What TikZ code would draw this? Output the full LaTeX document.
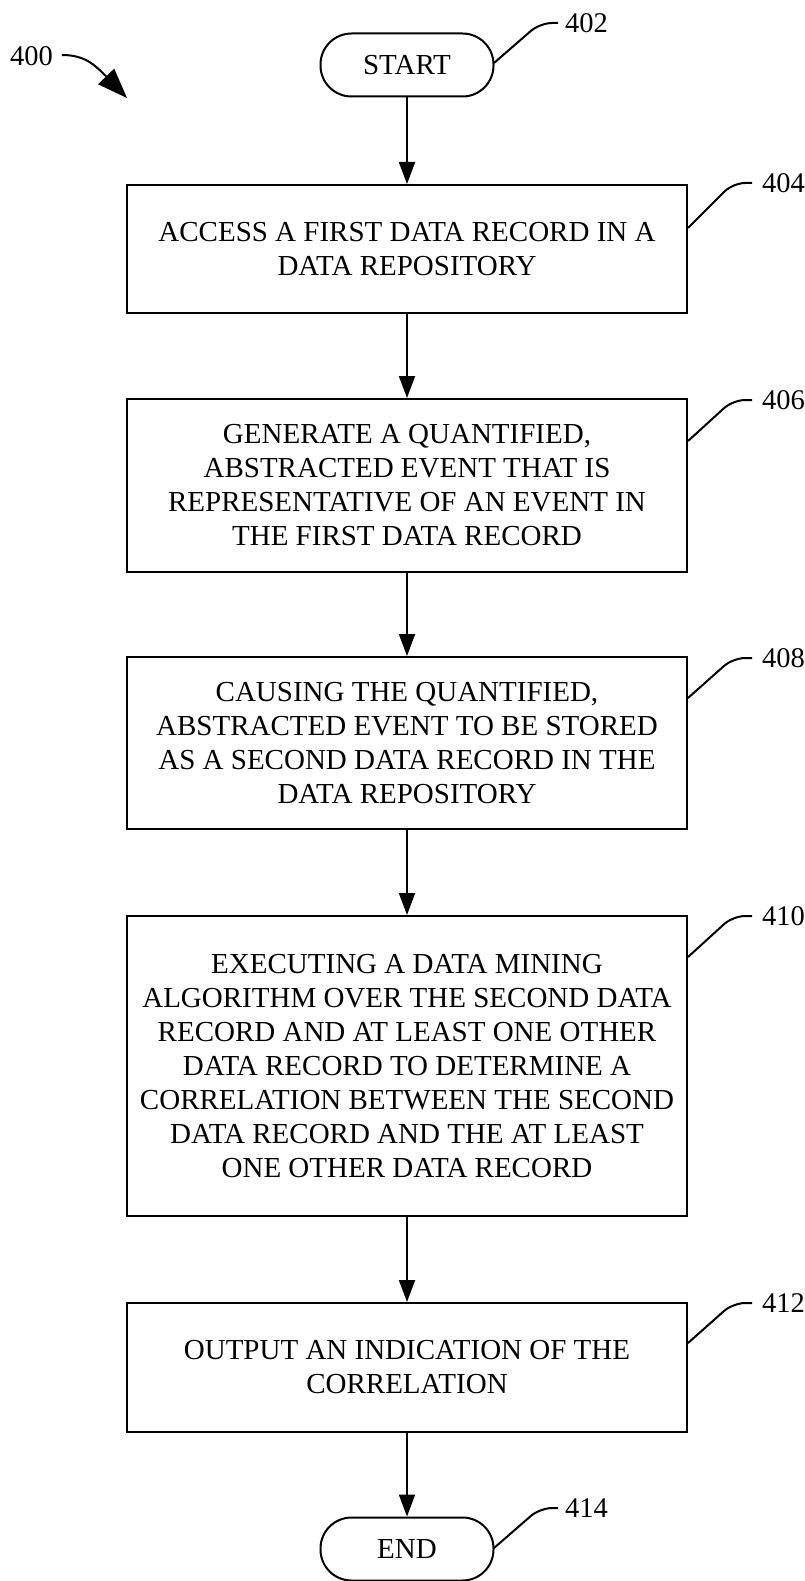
\documentclass[tikz,border=0pt]{standalone}
\usepackage{fontspec}
\setmainfont{Liberation Serif}
\usetikzlibrary{arrows.meta}
\begin{document}
\begin{tikzpicture}[x=1pt,y=1pt,
  every node/.style={font=\fontsize{29}{34}\selectfont},
  stepbox/.style={draw,line width=2pt,minimum width=560pt,align=center,inner sep=0pt},
  term/.style={draw,line width=2pt,minimum width=173pt,minimum height=63pt,rounded corners=31pt,inner sep=0pt},
  flow/.style={line width=2pt,-{Triangle[width=16pt,length=22pt]}},
  leader/.style={line width=2pt,rounded corners=12pt},
  lbl/.style={anchor=west,inner sep=0pt,font=\fontsize{28.5}{34}\selectfont}]
\useasboundingbox (0,0) rectangle (805,-1581);
\node[term] (start) at (407,-65) {START};
\node[stepbox,minimum height=128pt] (b404) at (407,-249) {ACCESS A FIRST DATA RECORD IN A\\DATA REPOSITORY};
\node[stepbox,minimum height=173pt] (b406) at (407,-485.5) {GENERATE A QUANTIFIED,\\ABSTRACTED EVENT THAT IS\\REPRESENTATIVE OF AN EVENT IN\\THE FIRST DATA RECORD};
\node[stepbox,minimum height=172pt] (b408) at (407,-743) {CAUSING THE QUANTIFIED,\\ABSTRACTED EVENT TO BE STORED\\AS A SECOND DATA RECORD IN THE\\DATA REPOSITORY};
\node[stepbox,minimum height=300pt] (b410) at (407,-1066) {EXECUTING A DATA MINING\\ALGORITHM OVER THE SECOND DATA\\RECORD AND AT LEAST ONE OTHER\\DATA RECORD TO DETERMINE A\\CORRELATION BETWEEN THE SECOND\\DATA RECORD AND THE AT LEAST\\ONE OTHER DATA RECORD};
\node[stepbox,minimum height=129pt] (b412) at (407,-1367.5) {OUTPUT AN INDICATION OF THE\\CORRELATION};
\node[term] (end) at (407,-1549) {END};
\draw[flow] (start) -- (b404);
\draw[flow] (b404) -- (b406);
\draw[flow] (b406) -- (b408);
\draw[flow] (b408) -- (b410);
\draw[flow] (b410) -- (b412);
\draw[flow] (b412) -- (end);
% labels
\node[lbl] (l400) at (10,-56) {400};
\coordinate (c400) at (62,-55);
\coordinate (t400) at (127,-98);
\draw[line width=2pt,-{Triangle[width=22pt,length=30pt]}]
  (c400) .. controls (85,-55) and (95,-65) .. (t400);
\node[lbl] (l402) at (565,-23) {402};
\coordinate (s402) at (494,-63);
\draw[leader] (s402) -- (540,-23) -- (558,-23);
\node[lbl] (l404) at (762,-183) {404};
\draw[leader] (b404.north east)++(0,-44) -- (733,-183) -- (752,-183);
\node[lbl] (l406) at (762,-400) {406};
\draw[leader] (b406.north east)++(0,-43) -- (733,-400) -- (752,-400);
\node[lbl] (l408) at (762,-658) {408};
\draw[leader] (b408.north east)++(0,-42) -- (733,-658) -- (752,-658);
\node[lbl] (l410) at (762,-916) {410};
\draw[leader] (b410.north east)++(0,-42) -- (733,-916) -- (752,-916);
\node[lbl] (l412) at (762,-1303) {412};
\draw[leader] (b412.north east)++(0,-41) -- (733,-1303) -- (752,-1303);
\node[lbl] (l414) at (565,-1508) {414};
\coordinate (s414) at (494,-1548);
\draw[leader] (s414) -- (540,-1508) -- (558,-1508);
\end{tikzpicture}
\end{document}
